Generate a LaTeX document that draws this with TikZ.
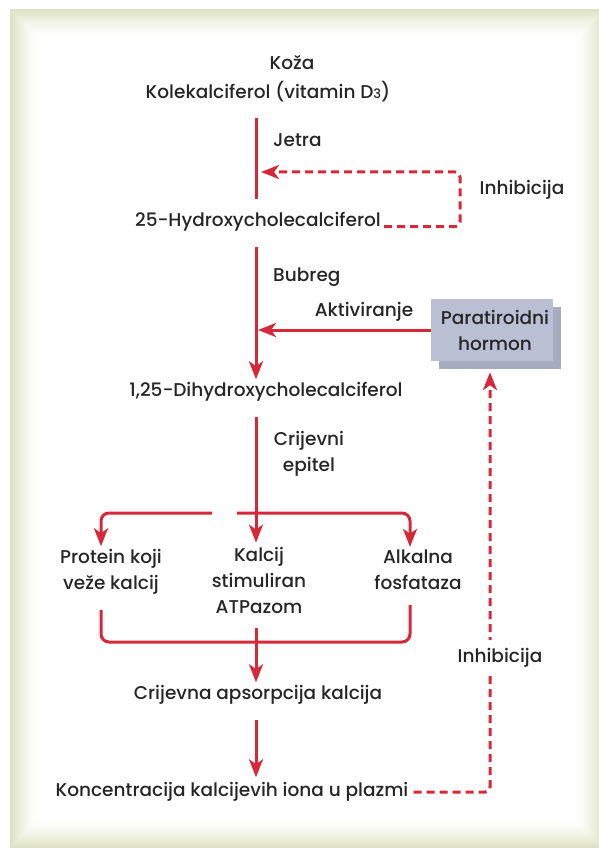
\documentclass[tikz,border=0pt]{standalone}
\usepackage{fontspec}
\setmainfont{Poppins}[UprightFont=* Medium]
\usetikzlibrary{arrows.meta,shadows}

\definecolor{vitred}{RGB}{214,40,57}
\definecolor{framegreen}{RGB}{221,225,194}
\definecolor{boxblue}{RGB}{186,191,211}
\definecolor{boxshadow}{RGB}{168,172,192}
\definecolor{textgray}{RGB}{38,38,38}

\begin{document}
\begin{tikzpicture}[x=1pt,y=-1pt,>={Stealth[length=18pt,width=14pt,inset=5pt]},
    flow/.style={vitred,line width=3pt,shorten <=12pt},
    inhib/.style={vitred,line width=3pt,dash pattern=on 8pt off 5pt},
    label/.style={text=textgray,font=\fontsize{18.5}{26}\selectfont,align=center,inner sep=3pt},
    hormonbox/.style={label,fill=boxblue,minimum width=122pt,minimum height=62pt,
      general shadow={fill=boxshadow,shadow xshift=8pt,shadow yshift=-8pt}}]
    % draw the frame
    \useasboundingbox (0,0) rectangle (598,850);
    \fill[white] (0,0) rectangle (598,850);
    \foreach \i in {0,1,...,30} {
      \pgfmathsetmacro\shade{100*(1-\i/30)^1.6}
      \fill[framegreen!\shade!white] (10+\i,9+\i) rectangle (604-\i,848-\i);
    }

    % the main line and the points where it splits
    \coordinate (trunk) at (256,0);
    \coordinate (loopc) at (460,172);
    \coordinate (upx) at (490,0);
    \coordinate (split) at (256,513);
    \coordinate (join) at (256,642);

    % draw the texts
    \node[label] (koza) at (292,63) {Koža};
    \node[label] (kole) at (268,92) {Kolekalciferol (vitamin D\raisebox{0pt}{\fontsize{13}{13}\selectfont 3})};
    \node[label,anchor=west] (jetra) at (270,140) {Jetra};
    \node[label] (hydro) at (258,222) {25-Hydroxycholecalciferol};
    \node[label] (inhibtop) at (522,190) {Inhibicija};
    \node[label,anchor=west] (bubreg) at (270,277) {Bubreg};
    \node[label] (aktiv) at (364,312) {Aktiviranje};
    \node[hormonbox] (pth) at (492,330) {\hspace{6pt}Paratiroidni\\ \hspace{6pt}hormon};
    \node[label] (dihydro) at (266,392) {1,25-Dihydroxycholecalciferol};
    \node[label] (epitel) at (309,454) {Crijevni\\ epitel};
    \node[label] (protein) at (111,572) {Protein koji\\ veže kalcij};
    \node[label] (kalcij) at (259,580) {Kalcij\\ stimuliran\\ ATPazom};
    \node[label] (alkalna) at (418,570) {Alkalna\\ fosfataza};
    \node[label] (apsorp) at (258,695) {Crijevna apsorpcija kalcija};
    \node[label] (konc) at (232,792) {Koncentracija kalcijevih iona u plazmi};

    % draw the main flow
    \draw[flow,shorten >=10pt] (kole.south -| trunk) -- (hydro.north -| trunk);
    \draw[flow,->] (hydro.south -| trunk) -- (dihydro.north -| trunk);
    \draw[flow,->,shorten <=0pt,shorten >=2pt] (pth.west) -- (pth.west -| trunk);
    \draw[flow,->,shorten >=1pt] (dihydro.south -| trunk) -- (kalcij.north -| trunk);

    % the branches to the three proteins and back
    \draw[flow,->,shorten <=0pt,rounded corners=8pt] ([xshift=-44pt]split) -| ([xshift=-10pt]protein.north);
    \draw[flow,->,shorten <=0pt,rounded corners=8pt] ([xshift=-19pt]split) -| ([xshift=-8pt]alkalna.north);
    \draw[flow,shorten >=12pt,rounded corners=8pt] ([xshift=-10pt]protein.south) |- (join) -| ([xshift=-8pt]alkalna.south);
    \draw[flow,->] (kalcij.south -| trunk) -- (apsorp.north -| trunk);
    \draw[flow,->,shorten >=2pt] (apsorp.south -| trunk) -- (konc.north -| trunk);

    % draw the inhibition loops
    \draw[inhib,->,rounded corners=5pt,shorten >=5pt] (hydro.base east) -| (loopc) -- (loopc -| trunk);
    \draw[inhib,->,rounded corners=5pt,shorten <=2pt] (konc.east) -| ([yshift=-11pt]pth.south -| upx);
    \node[label,fill=white,inner ysep=8pt] (inhibbot) at (500,658) {Inhibicija};
  \end{tikzpicture}
\end{document}
